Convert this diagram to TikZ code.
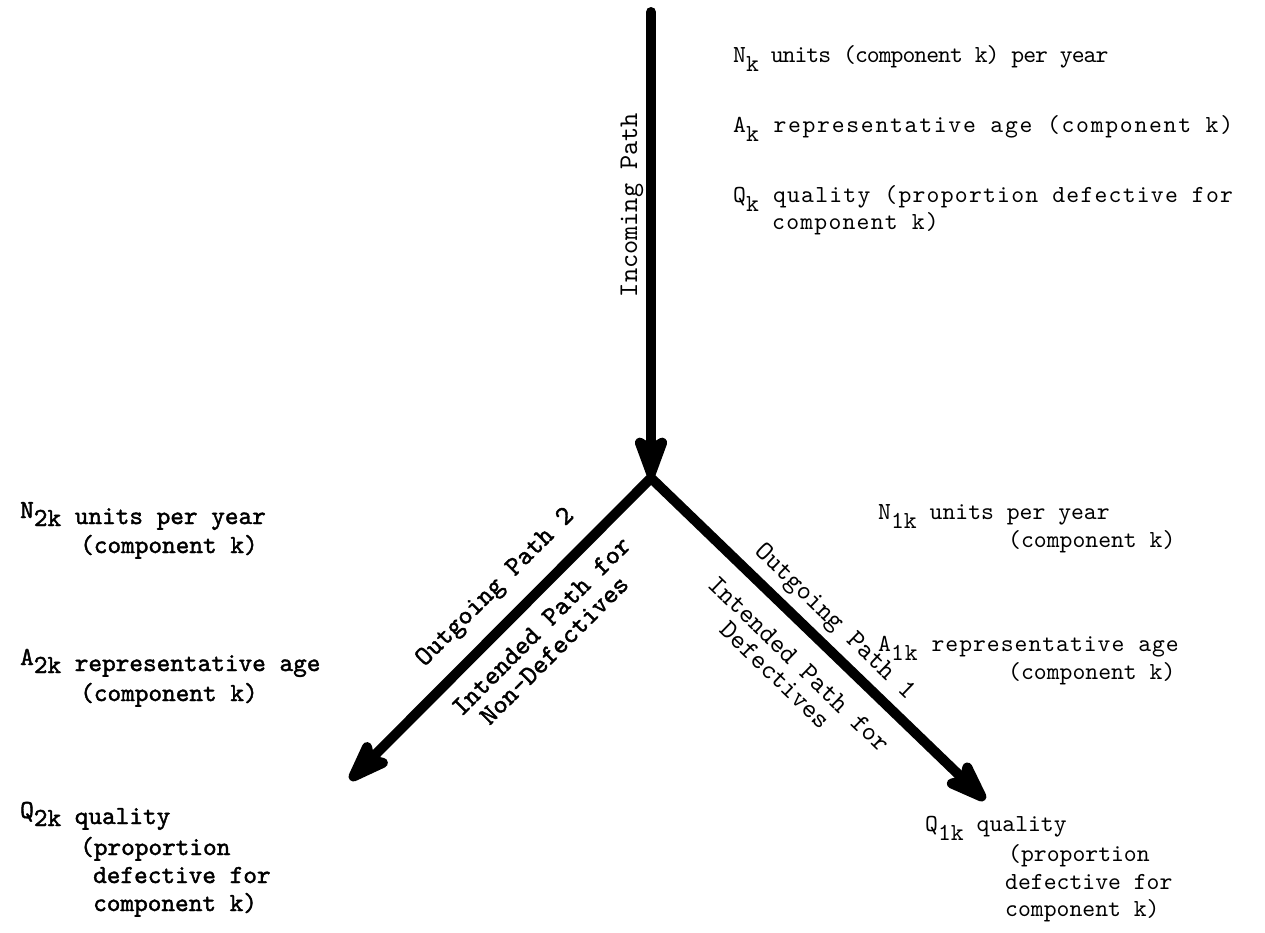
\documentclass[tikz,border=0pt]{standalone}
\usepackage{fontspec}
\newfontfamily\lighttt{lmmono10-regular.otf}
\newfontfamily\heavytt{lmmono10-regular.otf}[FakeBold=1.6]
\usetikzlibrary{arrows.meta}
\newcommand{\lowk}[1]{\raisebox{-9pt}{#1}}
\newcommand{\upn}[1]{\raisebox{6pt}{#1}}
\newcommand{\lsp}[1]{\addfontfeature{LetterSpace=#1}}
\begin{document}
\begin{tikzpicture}[x=1pt,y=-1pt,
  flow/.style={line width=10pt, line cap=round, -{Stealth[length=56pt,width=40pt,inset=12pt,round]}},
  txt/.style={anchor=base west, inner sep=0pt, font=\lighttt\fontsize{24.5}{28}\selectfont},
  ltxt/.style={anchor=base west, inner sep=0pt, font=\heavytt\fontsize{26}{28}\selectfont},
  lab/.style={inner sep=0pt, font=\heavytt\fontsize{27}{28}\selectfont},
  rlab/.style={inner sep=0pt, font=\lighttt\fontsize{27}{28}\selectfont}]
\useasboundingbox (0,0) rectangle (1265,932);
% arrows
\coordinate (top) at (651,12);
\coordinate (J) at (651,478);
\coordinate (L) at (350,780);
\coordinate (R) at (985,800);
\draw[flow] (top) -- (J);
\draw[flow] (J) -- (L);
\draw[flow] (J) -- (R);
% arrow labels
\node[rlab, rotate=90] (inc) at (632,205) {Incoming Path};
\node[lab, rotate=45] (o2) at (496,588) {Outgoing Path 2};
\node[lab, rotate=45] (i2) at (541,626) {Intended Path for};
\node[lab, rotate=45] (d2) at (554,650) {Non-Defectives};
\node[rlab, rotate=-44] (o1) at (834,623) {Outgoing Path 1};
\node[rlab, rotate=-44] (i1) at (799,664) {Intended Path for};
\node[rlab, rotate=-44] (d1) at (775,675) {Defectives};
% incoming
\node[txt] (nk) at (733,62) {\lsp{-4}N\lowk{k} units (component k) per year};
\node[txt] (ak) at (733,132) {\lsp{7}A\lowk{k} representative age (component k)};
\node[txt] (qk) at (733,202) {\lsp{5}Q\lowk{k} quality (proportion defective for};
\node[txt] (qkb) at (772,229) {\lsp{5}component k)};
% outgoing 2
\node[ltxt] (n2) at (20,524) {\upn{N}\raisebox{-2pt}{2k} units per year};
\node[ltxt] (n2b) at (80,553) {(component k)};
\node[ltxt] (a2) at (20,671) {\upn{A}\raisebox{-2pt}{2k} representative age};
\node[ltxt] (a2b) at (80,701) {(component k)};
\node[ltxt] (q2) at (20,824) {\upn{Q}\raisebox{-2pt}{2k} quality};
\node[ltxt] (q2b) at (80,855) {(proportion};
\node[ltxt] (q2c) at (93,883) {defective for};
\node[ltxt] (q2d) at (93,911) {component k)};
% outgoing 1
\node[txt] (n1) at (878,519) {N\lowk{1k} units per year};
\node[txt] (n1b) at (1008,547) {(component k)};
\node[txt] (a1) at (878,651) {\lsp{4}A\lowk{1k} representative age};
\node[txt] (a1b) at (1008,679) {(component k)};
\node[txt] (q1) at (925,831) {Q\lowk{1k} quality};
\node[txt] (q1b) at (1008,861) {(proportion};
\node[txt] (q1c) at (1005,889) {defective for};
\node[txt] (q1d) at (1005,916) {component k)};
\end{tikzpicture}
\end{document}
